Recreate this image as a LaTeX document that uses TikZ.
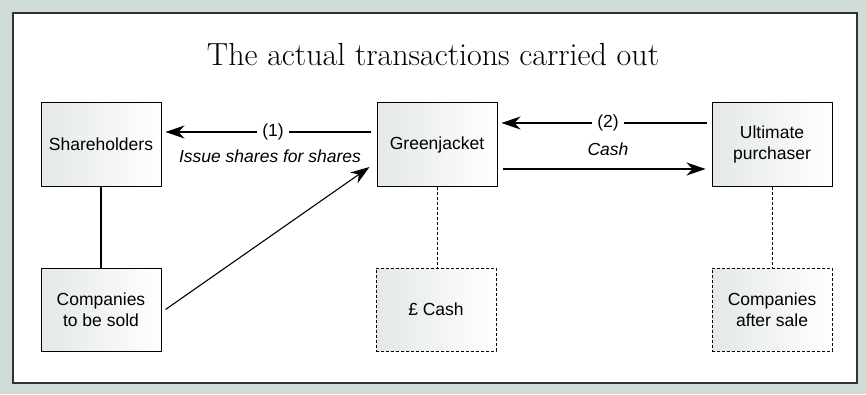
\documentclass[tikz,border=0pt]{standalone}
\usepackage{fontspec}
\usetikzlibrary{arrows.meta,calc}
\newfontfamily\boxfont{Liberation Sans}
\definecolor{bgc}{RGB}{207,220,215}
\definecolor{framec}{RGB}{50,50,50}
\definecolor{shadec}{RGB}{228,232,232}
\begin{document}
\begin{tikzpicture}[x=1pt,y=1pt,
  box/.style={draw=black,line width=1pt,minimum width=120pt,minimum height=83pt,
    left color=shadec,right color=white,shading angle=90,
    font=\boxfont\fontsize{17.5}{21.5}\selectfont,align=center,inner sep=0pt},
  dbox/.style={box,line width=0.9pt,dash pattern=on 3pt off 2pt},
  arr/.style={-{Stealth[length=19pt,width=13pt,inset=6pt]},line width=1.1pt},
  lab/.style={font=\boxfont\fontsize{17.5}{20}\selectfont,inner sep=0pt},
  conn/.style={line width=1.1pt},
  dconn/.style={line width=0.9pt,dash pattern=on 3pt off 2pt}]
\fill[bgc] (0,0) rectangle (866,394);
\draw[framec,fill=white,line width=1.4pt] (13,11) rectangle (857,381);
\node[font=\fontsize{32}{36}\selectfont] (title) at (433,339) {The actual transactions carried out};
\node[box] (sh) at (101,249.5) {Shareholders};
\node[box] (gj) at (437,249.5) {Greenjacket};
\node[box] (up) at (772,249.5) {Ultimate\\purchaser};
\node[box] (cs) at (101,84.5) {Companies\\to be sold};
\node[dbox] (cash) at (436,84.5) {£ Cash};
\node[dbox] (ca) at (772,84.5) {Companies\\after sale};
% arrow 1
\coordinate (a1s) at ([xshift=-6pt,yshift=12.5pt]gj.west);
\coordinate (a1e) at ([xshift=4pt,yshift=12.5pt]sh.east);
\draw[arr] (a1s) -- (a1e);
\node[lab,fill=white,inner xsep=5pt] (l1) at (273,262) {(1)};
\node[lab] (l1b) at (270,238) {\itshape Issue shares for shares};
% arrow 2
\coordinate (a2s) at ([xshift=-5pt,yshift=21.5pt]up.west);
\coordinate (a2e) at ([xshift=4pt,yshift=21.5pt]gj.east);
\draw[arr] (a2s) -- (a2e);
\node[lab,fill=white,inner xsep=5pt] (l2) at (608,271) {(2)};
\node[lab] (l2b) at (608,245) {\itshape Cash};
% lower arrow
\coordinate (a3s) at ([xshift=5pt,yshift=-24.5pt]gj.east);
\coordinate (a3e) at ([xshift=-6pt,yshift=-24.5pt]up.west);
\draw[arr] (a3s) -- (a3e);
% diagonal
\coordinate (a4s) at ([xshift=4pt]cs.east);
\coordinate (a4e) at ([xshift=-7pt,yshift=-22.5pt]gj.west);
\draw[arr] (a4s) -- (a4e);
% vertical connectors
\draw[conn] (sh.south) -- (cs.north);
\draw[dconn] (gj.south) -- (gj.south |- cash.north);
\draw[dconn] (up.south) -- (ca.north);
\end{tikzpicture}
\end{document}
